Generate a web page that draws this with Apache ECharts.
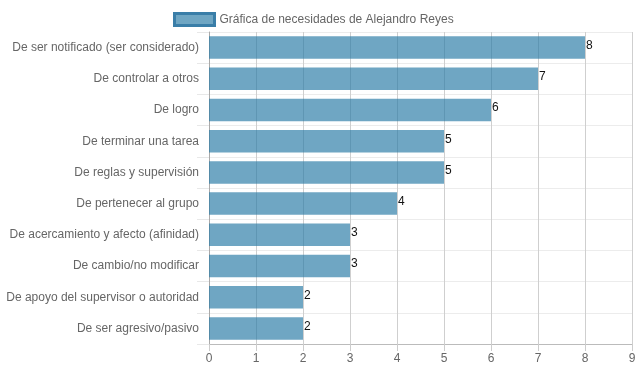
<!DOCTYPE html>
<html><head><meta charset="utf-8">
<script src="https://cdn.jsdelivr.net/npm/echarts@6/dist/echarts.min.js"></script>
<style>html,body{margin:0;padding:0;background:#fff}#c{width:639px;height:372px}</style>
</head><body><div id="c"></div>
<script>
const categories = ["De ser notificado (ser considerado)","De controlar a otros","De logro","De terminar una tarea","De reglas y supervisión","De pertenecer al grupo","De acercamiento y afecto (afinidad)","De cambio/no modificar","De apoyo del supervisor o autoridad","De ser agresivo/pasivo"];
const values = [8,7,6,5,5,4,3,3,2,2];
const seriesName = "Gráfica de necesidades de Alejandro Reyes";
const xTicks = {min:0, max:9, interval:1};

const chart = echarts.init(document.getElementById('c'), null, {renderer:'canvas'});
chart.setOption({
  animation:false,
  textStyle:{fontFamily:'Liberation Sans, Arial, sans-serif'},
  legend:{top:7, left:168, itemWidth:40, itemHeight:12, itemGap:6,
    textStyle:{color:'#666', fontSize:12, fontFamily:'Liberation Sans, Arial, sans-serif'},
    data:[{name:seriesName, icon:'rect', itemStyle:{color:'rgba(41,123,166,0.67)', borderColor:'#3a7ea8', borderWidth:3}}]},
  grid:{left:209, right:7, top:32, bottom:28, containLabel:false},
  xAxis:{type:'value', min:xTicks.min, max:xTicks.max, interval:xTicks.interval,
    axisLine:{show:true, lineStyle:{color:'#bbb'}},
    axisTick:{show:true, length:7, lineStyle:{color:'#ccc'}},
    axisLabel:{color:'#666', fontSize:12, margin:9},
    splitLine:{show:true, lineStyle:{color:'#cfcfcf', width:1}}},
  yAxis:{type:'category', data:categories, inverse:true,
    axisLine:{show:true, lineStyle:{color:'#aaa'}},
    axisTick:{show:true, length:12, lineStyle:{color:'#e8e8e8'}},
    axisLabel:{color:'#666', fontSize:12, margin:10},
    splitLine:{show:true, lineStyle:{color:'#ececec', width:1}}},
  series:[{name:seriesName, type:'bar', data:values, barCategoryGap:'28%',
    itemStyle:{color:'rgba(41,123,166,0.67)'},
    label:{show:true, position:'right', distance:1, color:'#111', fontSize:12, offset:[0,-2],
      fontFamily:'Liberation Sans, Arial, sans-serif'}}]
});
</script></body></html>
